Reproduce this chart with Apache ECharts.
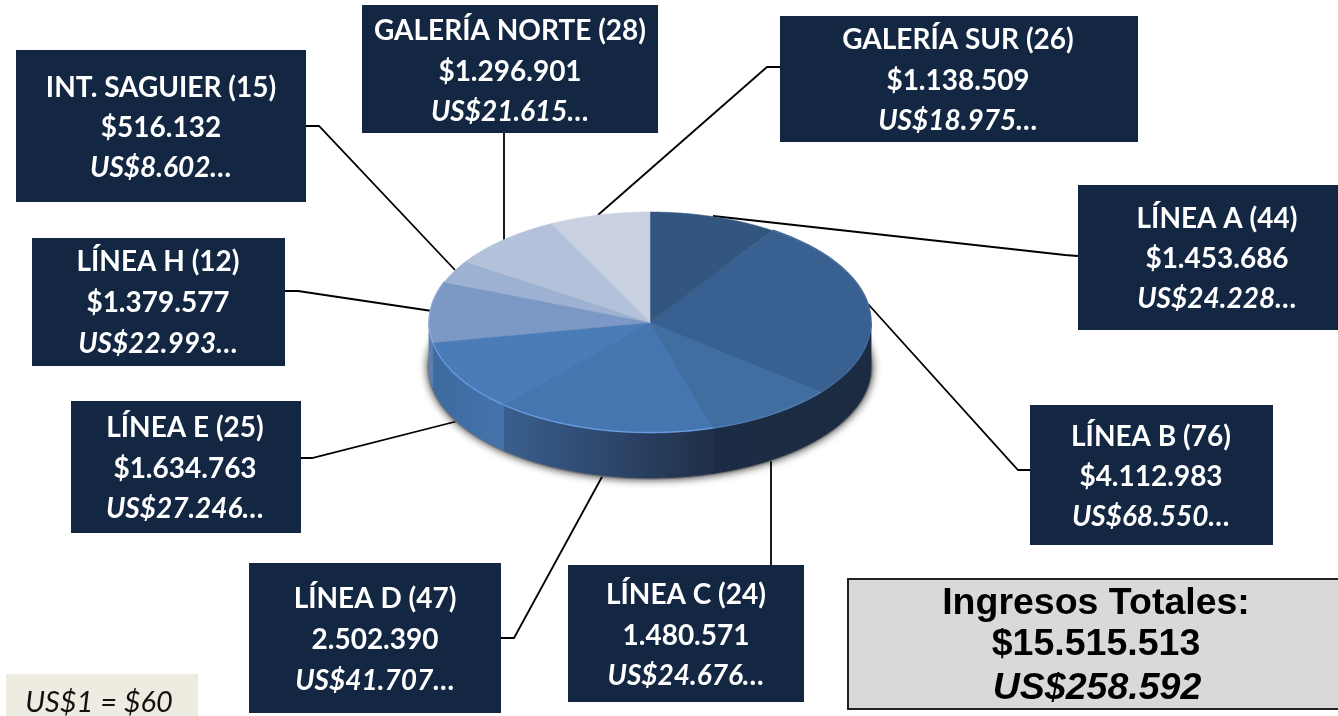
<!DOCTYPE html>
<html>
<head>
<meta charset="utf-8">
<title>Ingresos por línea</title>
<script src="https://cdn.jsdelivr.net/npm/echarts@6/dist/echarts.min.js"></script>
<style>
  html, body { margin: 0; padding: 0; background: #fff; }
  #chart { width: 1338px; height: 716px; }
</style>
</head>
<body>
<div id="chart"></div>
<script>
// data, clockwise from the top of the pie
const names = ['LÍNEA A', 'LÍNEA B', 'LÍNEA C', 'LÍNEA D', 'LÍNEA E', 'LÍNEA H', 'INT. SAGUIER', 'GALERÍA NORTE', 'GALERÍA SUR'];
const counts = [44, 76, 24, 47, 25, 12, 15, 28, 26];
const pesos = [1453686, 4112983, 1480571, 2502390, 1634763, 1379577, 516132, 1296901, 1138509];
const pesoLabels = ['$1.453.686', '$4.112.983', '1.480.571', '2.502.390', '$1.634.763', '$1.379.577', '$516.132', '$1.296.901', '$1.138.509'];
const dollarLabels = ['US$24.228…', 'US$68.550…', 'US$24.676…', 'US$41.707…', 'US$27.246…', 'US$22.993…', 'US$8.602…', 'US$21.615…', 'US$18.975…'];
const totalLines = ['Ingresos Totales:', '$15.515.513', 'US$258.592'];
const rateLabel = 'US$1 = $60';

// slice styling
const topColors = ['#33567f', '#386090', '#416ea1', '#4676b0', '#4a7cb8', '#7b98c6', '#9db1d2', '#b3c2da', '#c9d0e0'];
const rimColors = [null, '#44699a', '#4f7cb0', '#6a9ae0', '#6a9ae0', '#93abd2', null, null, null];
const wallColors = [
  ['#1a2b42', '#1a2b42'], ['#1a2b42', '#1a2b42'], ['#1b2c44', '#1a2b42'],
  ['#3a5f8e', '#202f49'], ['#3d6a9f', '#4474ab'], ['#5d7fae', '#5d7fae'],
  ['#5d7fae', '#5d7fae'], ['#5d7fae', '#5d7fae'], ['#5d7fae', '#5d7fae']
];

// layout: [x0, y0, x1, y1, text centre x, first line y, line step]
const boxes = [
  [1078, 185, 1338, 330, 1217, 219, 40],
  [1030, 405, 1273, 545, 1151, 437, 40],
  [568, 565, 804, 702, 686, 595, 40.5],
  [249, 563, 501, 713, 375, 599, 41],
  [71, 401, 301, 533, 185, 428, 40.5],
  [32, 238, 285, 366, 158, 262, 41],
  [16, 50, 306, 202, 161, 88, 40],
  [362, 5, 658, 133, 510, 31, 40.5],
  [780, 16, 1138, 142, 958, 40, 40.5]
];
const leaders = [
  [[713, 216], [1065, 255], [1078, 256]],
  [[868, 304], [1018, 470], [1030, 470]],
  [[771, 455], [771, 565]],
  [[603, 475], [514, 638], [501, 638]],
  [[458, 421], [312, 458], [301, 458]],
  [[432, 311], [298, 291], [285, 291]],
  [[455, 270], [319, 126], [306, 126]],
  [[504, 242], [504, 133]],
  [[598, 215], [767, 67], [780, 67]]
];

const cx = 650, cy = 322.5, rx = 221, ry = 110.5, depth = 45;
const total = pesos.reduce((a, b) => a + b, 0);

function sliceAngles(i) {
  let before = 0;
  for (let k = 0; k < i; k++) before += pesos[k];
  return [before / total * Math.PI * 2, (before + pesos[i]) / total * Math.PI * 2];
}

function edge(t, dy) {
  return [cx + rx * Math.sin(t), cy + (dy || 0) - ry * Math.cos(t)];
}

function arc(a, b, dy) {
  const n = Math.max(2, Math.ceil((b - a) / 0.01));
  const pts = [];
  for (let i = 0; i <= n; i++) pts.push(edge(a + (b - a) * i / n, dy));
  return pts;
}

function renderWall(params) {
  const ang = sliceAngles(params.dataIndex);
  // only the front half of the rim is visible
  const a = Math.max(ang[0], Math.PI / 2);
  const b = Math.min(ang[1], Math.PI * 1.5);
  if (a >= b) return null;
  const c = wallColors[params.dataIndex];
  const grad = new echarts.graphic.LinearGradient(0, 0, 1, 0, [
    { offset: 0, color: c[0] }, { offset: 1, color: c[1] }
  ]);
  return {
    type: 'polygon',
    shape: { points: arc(a, b, 0).concat(arc(a, b, depth).reverse()) },
    // same-colour stroke closes the seams between neighbouring walls
    style: { fill: grad, stroke: grad, lineWidth: 0.8 }
  };
}

function renderTop(params) {
  const i = params.dataIndex;
  const ang = sliceAngles(i);
  const children = [{
    type: 'polygon',
    shape: { points: [[cx, cy]].concat(arc(ang[0], ang[1], 0)) },
    style: { fill: topColors[i], stroke: topColors[i], lineWidth: 0.5 }
  }];
  if (rimColors[i]) {
    children.push({
      type: 'polyline',
      shape: { points: arc(ang[0], ang[1], -0.5) },
      style: { fill: null, stroke: rimColors[i], lineWidth: 1.3 }
    });
  }
  return { type: 'group', children: children };
}

function textLine(x, y, text, font) {
  return {
    type: 'text', z: 6, x: x, y: y,
    style: Object.assign({ text: text, align: 'center', verticalAlign: 'middle' }, font)
  };
}

const graphics = [];
leaders.forEach(function (pts) {
  graphics.push({
    type: 'polyline', z: 1, shape: { points: pts },
    style: { fill: null, stroke: '#000', lineWidth: 1.8 }
  });
});
boxes.forEach(function (b, i) {
  graphics.push({
    type: 'rect', z: 5, shape: { x: b[0], y: b[1], width: b[2] - b[0], height: b[3] - b[1] },
    style: { fill: '#132743' }
  });
  const base = { fill: '#fff', fontFamily: 'Lato', fontSize: 28, fontWeight: 'bold' };
  graphics.push(textLine(b[4], b[5], names[i] + ' (' + counts[i] + ')', base));
  graphics.push(textLine(b[4], b[5] + b[6], pesoLabels[i], base));
  graphics.push(textLine(b[4], b[5] + b[6] * 2, dollarLabels[i], Object.assign({}, base, { fontStyle: 'italic' })));
});

// totals box
graphics.push({
  type: 'rect', z: 5, shape: { x: 848, y: 579, width: 492, height: 130 },
  style: { fill: '#d9d9d9', stroke: '#222', lineWidth: 2 }
});
const totalFont = { fill: '#000', fontFamily: 'Liberation Sans', fontSize: 37.5, fontWeight: 'bold' };
graphics.push(textLine(1096, 604, totalLines[0], totalFont));
graphics.push(textLine(1096, 645, totalLines[1], totalFont));
graphics.push(textLine(1097, 689, totalLines[2], Object.assign({}, totalFont, { fontStyle: 'italic' })));

// exchange rate note
graphics.push({
  type: 'rect', z: 5, shape: { x: 6, y: 674, width: 192, height: 42 },
  style: { fill: '#eeece1' }
});
graphics.push(textLine(99, 703, rateLabel, { fill: '#111', fontFamily: 'Lato', fontSize: 29, fontStyle: 'italic' }));

const chart = echarts.init(document.getElementById('chart'));
chart.setOption({
  animation: false,
  graphic: graphics,
  series: [
    {
      // soft halo under the disc
      type: 'custom', coordinateSystem: 'none', silent: true, z: 2, data: [0],
      renderItem: function () {
        return {
          type: 'ellipse',
          shape: { cx: cx, cy: cy + depth, rx: rx + 1.5, ry: ry + 1.5 },
          style: { fill: '#777', shadowBlur: 8, shadowColor: 'rgba(0,0,0,0.8)' }
        };
      }
    },
    {
      type: 'custom', coordinateSystem: 'none', silent: true, z: 3,
      data: pesos, renderItem: renderWall
    },
    {
      type: 'custom', coordinateSystem: 'none', silent: true, z: 4,
      data: pesos, renderItem: renderTop
    }
  ]
});
</script>
</body>
</html>
